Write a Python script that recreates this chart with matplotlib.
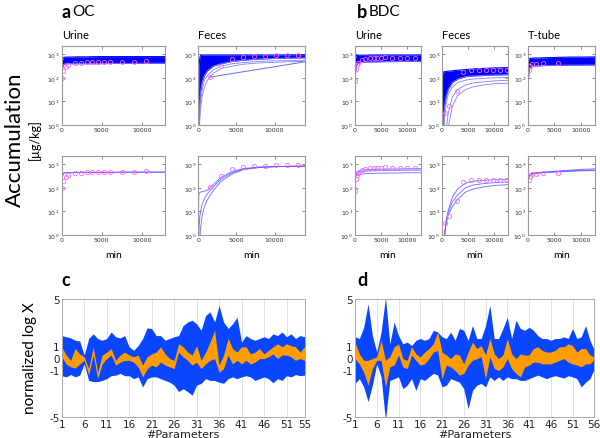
import numpy as np
import matplotlib
matplotlib.use("Agg")
import matplotlib.pyplot as plt

# ---- time grid shared by the accumulation curves (min) ----
t_grid = [0, 50, 100, 200, 300, 500, 800, 1200, 2000, 3000, 4500, 6000, 8000, 10000, 14000]

# ---- OC urine (log10 accumulation) ----
oc_urine_band_hi = [1.7, 2.5, 2.75, 2.85, 2.87, 2.88, 2.88, 2.88, 2.89, 2.89, 2.9, 2.9, 2.9, 2.9, 2.9]
oc_urine_band_lo = [1.7, 2.1, 2.4, 2.55, 2.58, 2.6, 2.6, 2.6, 2.6, 2.6, 2.6, 2.61, 2.61, 2.62, 2.62]
oc_urine_fit = [
    [2.0, 2.3, 2.5, 2.62, 2.64, 2.65, 2.65, 2.65, 2.66, 2.66, 2.66, 2.66, 2.67, 2.67, 2.67],
    [1.95, 2.25, 2.45, 2.6, 2.62, 2.63, 2.64, 2.64, 2.65, 2.65, 2.65, 2.65, 2.66, 2.66, 2.66],
]
oc_urine_obs_t = [50, 200, 480, 780, 1600, 2400, 3200, 3800, 4560, 5300, 6000, 7500, 9050, 10560]
oc_urine_obs = [2.0, 2.28, 2.45, 2.55, 2.62, 2.65, 2.66, 2.67, 2.67, 2.68, 2.68, 2.68, 2.69, 2.7]

# ---- OC feces ----
oc_feces_band_hi = [-0.5, 1.5, 2.5, 2.85, 2.95, 2.97, 2.97, 2.97, 2.97, 2.97, 2.97, 2.97, 2.97, 2.97, 2.98]
oc_feces_band_lo = [-0.5, -0.5, 0.3, 1.0, 1.4, 1.8, 2.1, 2.3, 2.5, 2.6, 2.7, 2.75, 2.8, 2.82, 2.85]
oc_feces_extra = [
    [-0.5, -0.5, -0.5, 0.5, 1.0, 1.5, 1.9, 2.1, 2.35, 2.5, 2.6, 2.65, 2.7, 2.72, 2.75],
    [-0.5, -0.5, -0.5, 0.2, 0.7, 1.2, 1.6, 1.9, 2.2, 2.4, 2.5, 2.58, 2.63, 2.66, 2.7],
]
oc_feces_jump_t = [1500, 14000]
oc_feces_jump = [2.03, 2.68]
oc_feces_fit = [
    [-0.5, 1.6, 1.78, 1.8, 1.82, 1.84, 1.86, 1.9, 2.15, 2.45, 2.7, 2.82, 2.88, 2.9, 2.92],
    [-0.5, -0.5, 0.3, 0.8, 1.0, 1.3, 1.55, 1.75, 2.05, 2.38, 2.65, 2.8, 2.87, 2.9, 2.92],
    [-0.5, -0.5, -0.5, -0.2, 0.3, 0.8, 1.2, 1.5, 1.9, 2.28, 2.6, 2.78, 2.86, 2.9, 2.92],
]
oc_feces_obs_t = [1480, 2970, 4450, 5850, 7330, 8770, 10200, 11650, 13140]
oc_feces_obs = [2.03, 2.5, 2.78, 2.89, 2.92, 2.93, 2.97, 2.96, 2.97]

# ---- BDC urine ----
bdc_urine_band_hi = [1.8, 2.6, 2.85, 2.93, 2.95, 2.96, 2.96, 2.96, 2.96, 2.97, 2.97, 2.97, 2.97, 2.97, 2.97]
bdc_urine_band_lo = [1.5, 1.9, 2.2, 2.45, 2.55, 2.6, 2.63, 2.65, 2.67, 2.68, 2.68, 2.69, 2.69, 2.7, 2.7]
bdc_urine_fit = [
    [2.3, 2.45, 2.55, 2.62, 2.66, 2.7, 2.73, 2.75, 2.77, 2.78, 2.79, 2.8, 2.8, 2.81, 2.82],
    [2.3, 2.4, 2.5, 2.57, 2.6, 2.63, 2.66, 2.68, 2.7, 2.72, 2.73, 2.74, 2.74, 2.75, 2.75],
    [2.2, 2.35, 2.45, 2.5, 2.53, 2.55, 2.57, 2.58, 2.6, 2.61, 2.62, 2.63, 2.63, 2.64, 2.64],
]
bdc_urine_obs_t = [0, 130, 320, 650, 1300, 2000, 2800, 3570, 4220, 5000, 5700, 7140, 8570, 10000, 11500]
bdc_urine_obs = [1.87, 2.36, 2.54, 2.64, 2.75, 2.8, 2.83, 2.85, 2.86, 2.86, 2.87, 2.86, 2.86, 2.86, 2.86]

# ---- BDC feces ----
bdc_feces_band_hi = [-0.5, 1.5, 2.1, 2.22, 2.25, 2.26, 2.27, 2.28, 2.3, 2.32, 2.35, 2.38, 2.4, 2.42, 2.44]
bdc_feces_band_lo = [-0.5, -0.5, -0.5, -0.5, 0.3, 0.8, 1.2, 1.5, 1.8, 1.95, 2.05, 2.08, 2.1, 2.12, 2.14]
bdc_feces_extra = [
    [-0.5, -0.5, -0.5, -0.5, -0.5, 0.3, 0.9, 1.3, 1.6, 1.8, 1.9, 1.95, 1.98, 2.0, 2.02],
    [-0.5, -0.5, -0.5, -0.5, -0.5, -0.5, -0.2, 0.5, 1.2, 1.5, 1.7, 1.78, 1.83, 1.87, 1.9],
    [-0.5, -0.5, -0.5, -0.5, -0.5, -0.5, -0.5, -0.1, 0.8, 1.25, 1.5, 1.62, 1.7, 1.75, 1.78],
]
bdc_feces_fit = [
    [-0.5, -0.5, -0.5, -0.5, -0.5, 0.0, 0.6, 1.05, 1.6, 1.95, 2.2, 2.28, 2.32, 2.34, 2.36],
    [-0.5, -0.5, -0.5, -0.5, -0.5, 0.0, 0.55, 0.95, 1.4, 1.7, 2.0, 2.12, 2.18, 2.22, 2.26],
    [-0.5, -0.5, -0.5, -0.5, -0.5, 0.0, 0.5, 0.85, 1.2, 1.5, 1.82, 1.95, 2.04, 2.1, 2.15],
]
bdc_feces_obs_t = [510, 1410, 2820, 4100, 5580, 7050, 8400, 9800, 11200, 12600]
bdc_feces_obs = [0.5, 0.81, 1.43, 2.24, 2.33, 2.33, 2.33, 2.33, 2.33, 2.33]

# ---- BDC T-tube ----
bdc_ttube_band_hi = [1.8, 2.6, 2.75, 2.8, 2.82, 2.83, 2.83, 2.84, 2.84, 2.85, 2.86, 2.87, 2.88, 2.88, 2.89]
bdc_ttube_band_lo = [1.05, 1.6, 2.0, 2.3, 2.4, 2.45, 2.48, 2.5, 2.51, 2.52, 2.53, 2.53, 2.54, 2.54, 2.55]
bdc_ttube_fit = [
    [2.25, 2.35, 2.42, 2.5, 2.55, 2.58, 2.6, 2.62, 2.64, 2.66, 2.69, 2.72, 2.75, 2.78, 2.82],
    [2.2, 2.3, 2.38, 2.46, 2.5, 2.54, 2.57, 2.6, 2.62, 2.64, 2.66, 2.68, 2.7, 2.72, 2.74],
    [2.3, 2.4, 2.45, 2.52, 2.56, 2.6, 2.62, 2.63, 2.65, 2.66, 2.68, 2.7, 2.72, 2.74, 2.76],
]
bdc_ttube_obs_t = [100, 320, 700, 1500, 2900, 5700]
bdc_ttube_obs = [2.33, 2.5, 2.58, 2.58, 2.65, 2.64]

# ---- c: OC normalized log parameters (55) ----
c_blue_hi = [1.9, 1.8, 1.7, 1.5, 1.45, 0.25, 1.65, 2.05, 1.65, 1.5, 1.65, 2.2, 1.8, 1.7, 1.9,
             0.95, 0.65, 1.05, 1.65, 2.55, 2.5, 1.9, 1.9, 1.5, 1.65, 1.8, 1.9, 2.75, 3.05, 3.2,
             2.9, 2.35, 3.6, 3.9, 3.05, 4.45, 3.05, 2.5, 2.9, 3.45, 1.35, 1.9, 1.65, 1.5, 1.65,
             1.8, 1.65, 2.05, 1.9, 2.2, 1.8, 2.05, 1.65, 1.9, 1.8]
c_blue_lo = [-1.5, -1.6, -1.4, -1.6, -1.45, -0.5, -1.9, -2.0, -2.0, -1.9, -1.75, -1.5, -1.45, -1.3, -1.5,
             -1.5, -1.75, -1.6, -2.45, -1.75, -1.6, -1.6, -1.75, -1.9, -2.05, -2.3, -2.85, -2.6, -2.85, -3.15,
             -2.3, -2.15, -1.75, -1.9, -1.9, -2.05, -2.15, -1.75, -1.6, -1.75, -1.6, -1.5, -1.6, -1.9, -1.75,
             -1.6, -1.75, -2.1, -1.75, -1.9, -1.5, -1.6, -1.4, -1.5, -1.45]
c_orange_hi = [0.95, 0.25, -0.2, 0.8, 0.35, 0.1, -0.9, 0.95, -1.2, 0.25, 0.5, 0.8, -0.2, 0.25, 0.5,
               0.25, 0.1, 0.25, -0.6, 0.1, 0.35, 0.5, 0.95, 0.35, -0.05, -0.2, 1.2, 0.95, 0.5, 0.25,
               1.05, -0.2, 0.5, 1.35, 2.35, -0.6, 0.25, 1.65, 0.8, 0.5, 0.95, 0.95, 0.35, 0.5, 0.8,
               0.35, 0.65, 0.95, 1.2, 0.95, 1.2, 1.05, 0.95, 0.5, 0.95]
c_orange_lo = [0.1, -0.5, -0.75, -0.85, -0.5, -0.2, -1.45, 0.25, -1.75, -0.5, -0.05, 0.25, -0.6, -0.35, -0.2,
               -0.2, -0.35, -0.75, -1.6, -0.9, -0.6, -0.75, -0.35, -0.6, -0.75, -0.9, 0.5, 0.1, -0.2, -0.6,
               -0.35, -0.9, -0.5, -0.2, -0.05, -1.2, -0.9, 0.25, -0.5, -0.2, -0.5, -0.2, -0.5, -0.35, -0.05,
               -0.05, 0.1, 0.35, -0.05, 0.25, 0.25, 0.1, -0.2, -0.05, -0.2]

# ---- d: BDC normalized log parameters (56) ----
d_blue_hi = [1.8, 1.65, 2.6, 4.6, 1.9, 0.5, 2.2, 5.15, 1.2, 3.05, 1.9, 1.2, 1.35, 1.05, 1.5,
             1.65, 1.5, 1.65, 2.35, 2.2, 1.8, 1.65, 2.2, 1.5, 2.5, 2.35, 1.5, 2.75, 1.65, 1.65,
             2.75, 4.45, 1.65, 1.65, 2.5, 3.45, 1.65, 3.2, 2.5, 2.35, 2.6, 2.35, 1.9, 1.65, 1.65,
             1.5, 1.65, 1.65, 1.8, 1.65, 2.5, 1.65, 1.8, 2.75, 1.5, 0.65]
d_blue_lo = [-2.15, -1.75, -2.45, -3.7, -2.3, -0.5, -1.6, -5.3, -1.9, -1.75, -1.6, -2.6, -2.3, -1.75, -2.75,
             -1.75, -1.9, -1.6, -1.3, -1.45, -2.45, -2.3, -1.75, -1.9, -2.05, -2.6, -4.3, -2.75, -2.3, -2.15,
             -2.45, -1.6, -1.9, -1.6, -1.9, -1.6, -1.75, -1.75, -1.9, -1.9, -1.75, -1.6, -1.45, -1.6, -1.75,
             -1.6, -1.5, -1.6, -1.7, -1.5, -1.6, -1.75, -2.45, -2.05, -1.75, -0.9]
d_orange_hi = [1.35, 0.35, -0.2, -0.2, -0.05, 0.1, 1.5, -0.2, 0.1, 0.95, 1.2, -0.05, -0.2, 0.95, 0.35,
               0.1, 0.5, 0.8, 1.2, 2.2, 0.5, 0.25, -0.05, 0.35, 0.25, -0.5, 0.5, 1.35, 0.8, 1.05,
               0.25, 1.65, 0.35, -0.05, 0.25, 1.65, 0.35, -0.05, 0.35, 0.25, 0.25, 0.8, 0.95, 0.65, 0.5,
               0.5, 0.65, 0.95, 0.95, 1.2, 1.05, 0.5, 0.8, 0.8, 0.25, 0.1]
d_orange_lo = [-0.05, -0.5, -1.2, -2.3, -0.9, -0.2, -0.2, -2.45, -0.75, -0.6, 0.25, -0.75, -0.9, 0.25, -0.2,
               -0.6, -0.5, -0.05, 0.5, 0.65, -1.75, -0.6, -0.75, -1.05, -1.45, -1.3, -0.6, -0.2, -0.05, 0.1,
               -1.75, 0.1, -0.9, -1.05, -0.75, -0.05, -0.9, -1.3, -1.6, -0.75, -0.6, -0.35, -0.35, -0.5, -0.5,
               -0.5, -0.35, -0.2, -0.05, -0.35, -0.5, -0.6, -0.75, -0.5, -0.5, -0.1]

W, H = 600, 439
BLUE = "#0000ff"
MAGENTA = "#ff66ff"
BAND_BLUE = "#0a46ff"
ORANGE = "#ff9d00"
TXT = "Lato"


def box(x0, y0, x1, y1):
    return [x0 / W, 1 - y1 / H, (x1 - x0) / W, (y1 - y0) / H]


def p10(vals):
    return 10 ** np.asarray(vals, dtype=float)


def style_small(ax, xmax):
    ax.set_yscale("log")
    ax.set_ylim(1, 10 ** 3.35)
    ax.set_xlim(0, xmax)
    ax.set_yticks([1, 10, 100, 1000])
    ax.set_yticklabels([r"$10^0$", r"$10^1$", r"$10^2$", r"$10^3$"])
    ax.minorticks_off()
    ax.set_xticks([0, 5000, 10000])
    ax.set_xticklabels(["0", "5000", "10000"])
    ax.tick_params(labelsize=4.5, length=2, width=0.4, direction="in", pad=1.5,
                   colors="#333333", top=True, right=True)
    for s in ax.spines.values():
        s.set_color("#999999")
        s.set_linewidth(0.8)


def top_panel(ax, band_hi, band_lo, extra, obs_t, obs, xmax, jump=None):
    ax.fill_between(t_grid, p10(band_lo), p10(band_hi), color=BLUE, lw=0)
    ax.plot(t_grid, p10(band_hi), color=BLUE, lw=0.8)
    ax.plot(t_grid, p10(band_lo), color="#6a6aff", lw=0.8)
    for c in extra:
        ax.plot(t_grid, p10(c), color="#8080ff", lw=0.6)
    if jump is not None:
        ax.plot(jump[0], p10(jump[1]), color="#6a6aff", lw=0.7)
    ax.plot(obs_t, p10(obs), "o", mfc="none", mec=MAGENTA, ms=3, mew=0.6)
    style_small(ax, xmax)


def bottom_panel(ax, fits, obs_t, obs, xmax):
    for c in fits:
        ax.plot(t_grid, p10(c), color="#5a5aff", lw=0.7, alpha=0.8)
    ax.plot(obs_t, p10(obs), "o", mfc="none", mec=MAGENTA, ms=3, mew=0.6)
    style_small(ax, xmax)
    ax.text(0.5, -0.25, "min", transform=ax.transAxes, ha="center", va="center",
            fontsize=7.5, family=TXT)


fig = plt.figure(figsize=(W / 100, H / 100), dpi=100)

cols = [
    ("Urine", 61.7, 165, 12900, oc_urine_band_hi, oc_urine_band_lo, [], oc_urine_fit,
     oc_urine_obs_t, oc_urine_obs, None),
    ("Feces", 198.3, 305, 14000, oc_feces_band_hi, oc_feces_band_lo, oc_feces_extra, oc_feces_fit,
     oc_feces_obs_t, oc_feces_obs, (oc_feces_jump_t, oc_feces_jump)),
    ("Urine", 355, 421, 12700, bdc_urine_band_hi, bdc_urine_band_lo, [], bdc_urine_fit,
     bdc_urine_obs_t, bdc_urine_obs, None),
    ("Feces", 442, 508, 12700, bdc_feces_band_hi, bdc_feces_band_lo, bdc_feces_extra, bdc_feces_fit,
     bdc_feces_obs_t, bdc_feces_obs, None),
    ("T-tube", 528, 595, 12700, bdc_ttube_band_hi, bdc_ttube_band_lo, [], bdc_ttube_fit,
     bdc_ttube_obs_t, bdc_ttube_obs, None),
]

for name, x0, x1, xmax, bhi, blo, extra, fits, ot, ov, jump in cols:
    ax_top = fig.add_axes(box(x0, 47, x1, 126))
    top_panel(ax_top, bhi, blo, extra, ot, ov, xmax, jump)
    ax_top.text(0, 1.08, name, transform=ax_top.transAxes, ha="left", va="bottom",
                fontsize=8, family=TXT)
    ax_bot = fig.add_axes(box(x0, 157, x1, 236))
    bottom_panel(ax_bot, fits, ot, ov, xmax)

# panel letters and group titles
fig.text(61 / W, 1 - 12 / H, "a", fontsize=13, fontweight="bold", family=TXT, va="center")
fig.text(72 / W, 1 - 12 / H, "OC", fontsize=11, family=TXT, va="center")
fig.text(357 / W, 1 - 12 / H, "b", fontsize=13, fontweight="bold", family=TXT, va="center")
fig.text(369 / W, 1 - 12 / H, "BDC", fontsize=11, family=TXT, va="center")
fig.text(61 / W, 1 - 281 / H, "c", fontsize=13, fontweight="bold", family=TXT, va="center")
fig.text(357 / W, 1 - 281 / H, "d", fontsize=13, fontweight="bold", family=TXT, va="center")

fig.text(15 / W, 1 - 140 / H, "Accumulation", rotation=90, fontsize=16, family=TXT,
         ha="center", va="center")
fig.text(34 / W, 1 - 140 / H, "[\u00b5g/kg]", rotation=90, fontsize=9, family=TXT,
         ha="center", va="center")
fig.text(30 / W, 1 - 358 / H, "normalized log X", rotation=90, fontsize=11, family=TXT,
         ha="center", va="center")


def param_panel(ax, bhi, blo, ohi, olo):
    n = len(bhi)
    x = np.arange(1, n + 1)
    ax.fill_between(x, blo, bhi, color=BAND_BLUE, lw=0)
    ax.fill_between(x, olo, ohi, color=ORANGE, lw=0)
    ax.set_xlim(1, n)
    ax.set_ylim(-5, 5)
    ticks = list(range(1, n, 5))
    if ticks[-1] != n:
        ticks.append(n)
    ax.set_xticks(ticks)
    ax.set_yticks([-5, -1, 0, 1, 5])
    ax.set_yticklabels(["-5", "-1", "0", "1", "5"])
    ax.grid(axis="x", color="#dddddd", lw=0.6)
    ax.set_axisbelow(True)
    ax.tick_params(labelsize=7.5, length=0, pad=1.5, colors="#222222")
    for s in ax.spines.values():
        s.set_color("#aaaaaa")
        s.set_linewidth(0.7)
    ax.set_xlabel("#Parameters", fontsize=8, labelpad=0, color="#222222")


ax_c = fig.add_axes(box(61.7, 300, 304.5, 418))
param_panel(ax_c, c_blue_hi, c_blue_lo, c_orange_hi, c_orange_lo)
ax_d = fig.add_axes(box(355, 300, 594.3, 418))
param_panel(ax_d, d_blue_hi, d_blue_lo, d_orange_hi, d_orange_lo)

fig.savefig("out.png", dpi=100)
